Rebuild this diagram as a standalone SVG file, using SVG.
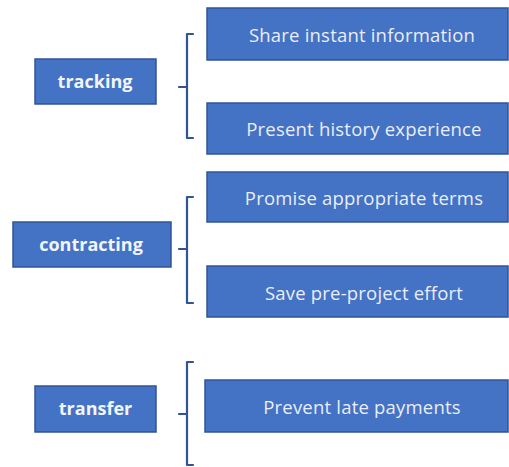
<svg xmlns="http://www.w3.org/2000/svg" width="509" height="467" viewBox="0 0 509 467">
<style>
.box{fill:#4472C4;stroke:#2F5597;stroke-width:1.5}
.lbl{font-family:"Open Sans","Noto Sans",sans-serif;font-weight:bold;font-size:18px;fill:#F2F5FB;text-anchor:middle}
.item{font-family:"Open Sans","Noto Sans",sans-serif;font-size:18.5px;fill:#E9EEF8;text-anchor:middle;letter-spacing:0.2px}
.br{fill:none;stroke:#2F5597;stroke-width:2.2;stroke-linecap:round;stroke-linejoin:round}
</style>
<rect width="509" height="467" fill="#FFFFFF"/>
<g id="tracking"><rect class="box" x="35" y="59" width="121" height="45"/><text class="lbl" x="95" y="88">tracking</text></g>
<g id="contracting"><rect class="box" x="13" y="222" width="158" height="45"/><text class="lbl" x="91" y="251">contracting</text></g>
<g id="transfer"><rect class="box" x="35" y="386" width="121" height="46"/><text class="lbl" x="95.5" y="415">transfer</text></g>
<g id="share"><rect class="box" x="207" y="8" width="301" height="52"/><text class="item" x="362" y="42">Share instant information</text></g>
<g id="present"><rect class="box" x="207" y="103" width="301" height="51"/><text class="item" x="364" y="136">Present history experience</text></g>
<g id="promise"><rect class="box" x="207" y="172" width="301" height="50"/><text class="item" x="364" y="205">Promise appropriate terms</text></g>
<g id="save"><rect class="box" x="207" y="266" width="301" height="51"/><text class="item" x="364" y="300">Save pre-project effort</text></g>
<g id="prevent"><rect class="box" x="205" y="380" width="303" height="52"/><text class="item" x="362" y="414">Prevent late payments</text></g>
<g id="connectors">
<path class="br" d="M193,34 H187 V138 H193 M187,87 H179"/>
<path class="br" d="M193,197 H187 V303 H193 M187,249 H179"/>
<path class="br" d="M193,362 H187 V465 H193 M187,414 H179"/>
</g>
</svg>
